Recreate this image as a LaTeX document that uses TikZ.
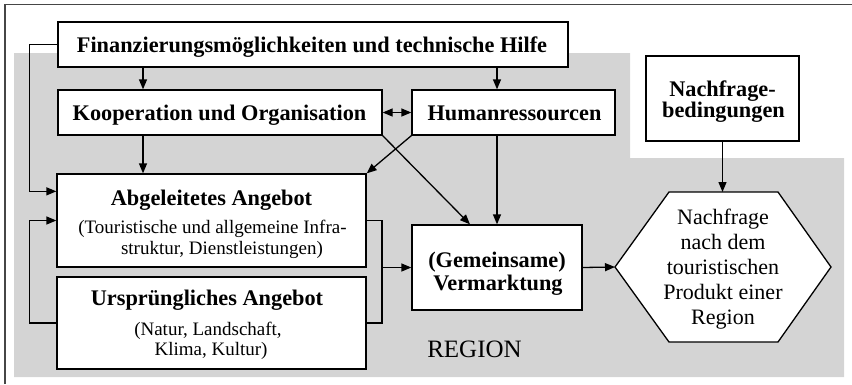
\documentclass[tikz,border=0pt]{standalone}
\usepackage{fontspec}
\setmainfont{Liberation Serif}
\usetikzlibrary{arrows.meta,calc}
\definecolor{regiongray}{RGB}{212,212,212}
\definecolor{framegray}{RGB}{70,70,70}
\tikzset{
  box/.style={draw=black, fill=white, line width=1.3pt, inner sep=0pt},
  ttl/.style={anchor=base, inner sep=0pt, font=\fontsize{22.3}{24}\selectfont\bfseries},
  sub/.style={anchor=base, inner sep=0pt, font=\fontsize{19}{21}\selectfont},
  conn/.style={line width=1.3pt},
  arr/.style={conn, -{Triangle[length=10pt,width=8pt]}},
  darr/.style={conn, {Triangle[length=10pt,width=8pt]}-{Triangle[length=10pt,width=8pt]}}
}
\begin{document}
\begin{tikzpicture}[x=1pt,y=-1pt]
\useasboundingbox (0,0) rectangle (852,384);
% frame
\draw[framegray, line width=1.2pt] (5,384) -- (5,4.5) -- (852,4.5);
% region
\fill[regiongray] (14,53) -- (630,53) -- (630,158) -- (844,158) -- (844,377) -- (14,377) -- cycle;
\node[anchor=base, inner sep=0pt, font=\fontsize{25}{27}\selectfont] (region) at (474.5,357) {REGION};

% boxes
\node[box, minimum width=510pt, minimum height=45pt] (fin) at (313,44.5) {};
\node[box, minimum width=324pt, minimum height=45pt] (koop) at (220,112.5) {};
\node[box, minimum width=203pt, minimum height=45pt] (hum) at (513.5,112.5) {};
\node[box, minimum width=153pt, minimum height=85pt] (nach) at (722.5,98.5) {};
\node[box, minimum width=309pt, minimum height=93pt] (abg) at (211.5,220.5) {};
\node[box, minimum width=309pt, minimum height=92pt] (urs) at (211.5,323) {};
\node[box, minimum width=170pt, minimum height=85pt] (verm) at (497,267.5) {};

% hexagon
\coordinate (hL) at (615,267);
\coordinate (hTL) at (669,192);
\coordinate (hTR) at (778,192);
\coordinate (hR) at (831,267);
\coordinate (hBR) at (778,342);
\coordinate (hBL) at (669,342);
\draw[fill=white, line width=1.3pt, line join=miter] (hL) -- (hTL) -- (hTR) -- (hR) -- (hBR) -- (hBL) -- cycle;
\node[align=center, inner sep=0pt, font=\fontsize{22}{25}\selectfont] (hex) at (723,269.5)
  {Nachfrage\\nach dem\\touristischen\\Produkt einer\\Region};

% texts
\node[ttl] (finT) at (312,52) {Finanzierungsmöglichkeiten und technische Hilfe};
\node[ttl] (koopT) at (219.5,120) {Kooperation und Organisation};
\node[ttl] (humT) at (514.5,120) {Humanressourcen};
\node[ttl] (nachT1) at (722.5,96.5) {Nachfrage-};
\node[ttl] (nachT2) at (723.5,117) {bedingungen};
\node[ttl] (abgT) at (211.5,205) {Abgeleitetes Angebot};
\node[sub] (abgS1) at (212.5,233) {(Touristische und allgemeine Infra-};
\node[sub] (abgS2) at (222,254) {struktur, Dienstleistungen)};
\node[ttl] (ursT) at (207,305) {Ursprüngliches Angebot};
\node[sub] (ursS1) at (208,335) {(Natur, Landschaft,};
\node[sub] (ursS2) at (211,355) {Klima, Kultur)};
\node[ttl] (vermT1) at (497,267) {(Gemeinsame)};
\node[ttl] (vermT2) at (498,290) {Vermarktung};

% helper coordinates
\coordinate (cx) at (143,0);
\coordinate (hx) at (497,0);
\coordinate (brk) at (382,0);

% connectors
\draw[arr] (fin.west) -- ++(-28,0) |- ([yshift=-18pt]abg.north west);
\draw[arr] (fin.south -| cx) -- (koop.north -| cx);
\draw[arr] (fin.south -| hx) -- (hum.north -| hx);
\draw[darr] (koop.east) -- (hum.west);
\draw[arr] (koop.south -| cx) -- (abg.north -| cx);
\draw[arr] (hum.south west) -- (abg.north east);
\draw[arr] (koop.south east) -- ([xshift=-27pt]verm.north);
\draw[arr] (hum.south -| hx) -- (verm.north -| hx);
\draw[arr] (nach.south) -- (nach.south |- hTL);
\draw[arr] (verm.east) -- (hL);
\draw[conn] (abg.east) -- (abg.east -| brk) |- (urs.east);
\draw[arr] (verm.west -| brk) -- (verm.west);
\draw[arr] (urs.west) -- ++(-27,0) |- (abg.west);
\end{tikzpicture}
\end{document}
